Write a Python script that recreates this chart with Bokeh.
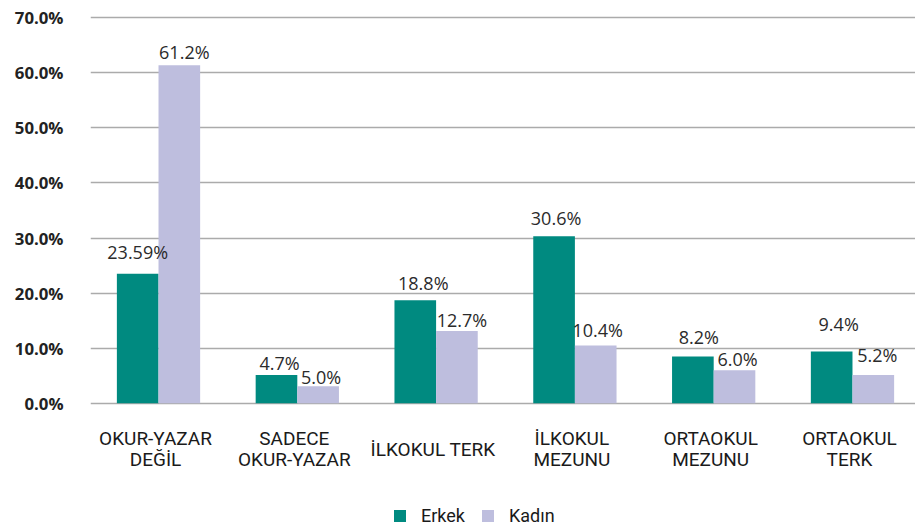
from bokeh.plotting import figure
from bokeh.models import (ColumnDataSource, FixedTicker, PrintfTickFormatter, Range1d,
                          LabelSet, Legend, LegendItem)
from bokeh.core.properties import value
from bokeh.embed import file_html
from bokeh.resources import INLINE

categories = ["OKUR-YAZAR\nDEĞİL", "SADECE\nOKUR-YAZAR", "İLKOKUL TERK",
              "İLKOKUL\nMEZUNU", "ORTAOKUL\nMEZUNU", "ORTAOKUL\nTERK"]
erkek = [23.5, 5.1, 18.7, 30.3, 8.5, 9.4]
kadin = [61.4, 3.1, 13.1, 10.5, 6.0, 5.1]
erkek_labels = ["23.59%", "4.7%", "18.8%", "30.6%", "8.2%", "9.4%"]
kadin_labels = ["61.2%", "5.0%", "12.7%", "10.4%", "6.0%", "5.2%"]
y_ticks = [0, 10, 20, 30, 40, 50, 60, 70]

# label placement tweaks (pixels)
erkek_dx = [0, 3, 8, 2, 6, 7]
erkek_dy = [15, 5, 10, 11, 12, 20]
kadin_dx = [5, 3, 5, 2, 3, 4]
kadin_dy = [6, 2, 4, 8, 4, 13]

TEAL = "#008A80"
LAV = "#BEBEDE"

idx = list(range(len(categories)))
src_e = ColumnDataSource(dict(x=[i - 0.15 for i in idx], top=erkek, lab=erkek_labels,
                              dx=erkek_dx, dy=erkek_dy))
src_k = ColumnDataSource(dict(x=[i + 0.15 for i in idx], top=kadin, lab=kadin_labels,
                              dx=kadin_dx, dy=kadin_dy))

# category labels: each line centred on its own, block centred under the group
LINE_GAP = 21.5
BLOCK_CENTER = -46
cx, cy, ctext, coff = [], [], [], []
for i, cat in enumerate(categories):
    lines = cat.split("\n")
    n = len(lines)
    for j, line in enumerate(lines):
        cx.append(i)
        cy.append(0)
        ctext.append(line)
        coff.append(BLOCK_CENTER + ((n - 1) / 2 - j) * LINE_GAP)
src_c = ColumnDataSource(dict(x=cx, y=cy, lab=ctext, off=coff))

p = figure(width=915, height=530, output_backend="svg", toolbar_location=None,
           x_range=Range1d(-0.49, 5.454), y_range=Range1d(-23.12, 70.96),
           min_border_left=90, min_border_right=0, min_border_top=12, min_border_bottom=0)
p.outline_line_color = None
p.background_fill_color = "white"
p.border_fill_color = "white"

r_e = p.vbar(x="x", top="top", width=0.3, source=src_e, fill_color=TEAL, line_color=None)
r_k = p.vbar(x="x", top="top", width=0.3, source=src_k, fill_color=LAV, line_color=None)

for src in (src_e, src_k):
    p.add_layout(LabelSet(x="x", y="top", text="lab", source=src, x_offset="dx", y_offset="dy",
                          text_align="center", text_baseline="alphabetic",
                          text_font=value("Open Sans"), text_font_size=value("18px"),
                          text_color="#2b2b2b"))

p.add_layout(LabelSet(x="x", y="y", text="lab", source=src_c, y_offset="off", x_offset=-3,
                      text_align="center", text_baseline="middle",
                      text_font=value("Roboto"), text_font_size=value("19px"),
                      text_color="#1a1a1a"))

# axes / grid
p.xaxis.visible = False
p.xgrid.grid_line_color = None
p.ygrid.grid_line_color = "#ABABAB"
p.ygrid.grid_line_width = 1.4
p.ygrid.ticker = FixedTicker(ticks=y_ticks)

p.yaxis.ticker = FixedTicker(ticks=y_ticks)
p.yaxis.formatter = PrintfTickFormatter(format="%.1f%%")
p.yaxis.axis_line_color = None
p.yaxis.major_tick_line_color = None
p.yaxis.minor_tick_line_color = None
p.yaxis.major_label_standoff = 21
p.yaxis.major_label_text_font = "Open Sans"
p.yaxis.major_label_text_font_style = "bold"
p.yaxis.major_label_text_font_size = "16.8px"
p.yaxis.major_label_text_color = "#222222"

legend = Legend(items=[LegendItem(label="Erkek", renderers=[r_e]),
                       LegendItem(label="Kadın", renderers=[r_k])],
                location=(302, 4), orientation="horizontal",
                glyph_width=15, glyph_height=15, label_standoff=14, spacing=15,
                padding=0, margin=0, border_line_color=None, background_fill_alpha=0,
                label_text_font="Roboto", label_text_font_size="18px",
                label_text_color="#1a1a1a", label_height=20)
p.add_layout(legend, "center")

open("out.html", "w").write(file_html(p, INLINE))
